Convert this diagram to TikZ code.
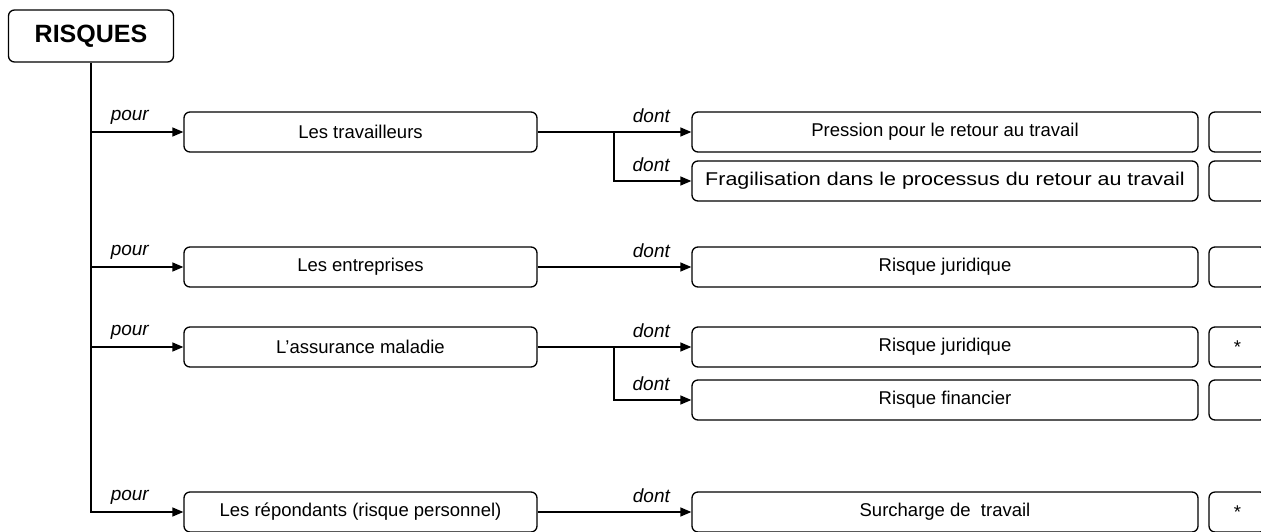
\documentclass[tikz,border=0pt]{standalone}
\usepackage{fontspec}
\setmainfont{Liberation Sans}
\usetikzlibrary{arrows.meta}
\begin{document}
\begin{tikzpicture}[x=1pt,y=-1pt,
  box/.style={draw,line width=1.3pt,rounded corners=6pt,inner sep=0pt,
    minimum height=40pt,font=\fontsize{18.5}{20}\selectfont},
  lvlone/.style={box,minimum width=353pt},
  lvltwo/.style={box,minimum width=506pt},
  side/.style={box,minimum width=57pt},
  wire/.style={line width=1.3pt},
  link/.style={wire,-{Triangle[length=11pt,width=9pt]}},
  tag/.style={font=\itshape\fontsize{19}{20}\selectfont,anchor=base,inner sep=0pt}]
\useasboundingbox (0,0) rectangle (1261,531);
\clip (0,0) rectangle (1261,531);

% root
\node[box,minimum width=165pt,minimum height=52pt,
  font=\bfseries\fontsize{25}{26}\selectfont] (root) at (91,36) {RISQUES};

% first level
\node[lvlone] (t1) at (360.5,132) {Les travailleurs};
\node[lvlone] (t2) at (360.5,267) {Les entreprises};
\node[lvlone] (t3) at (360.5,347) {L’assurance maladie};
\node[lvlone] (t4) at (360.5,512) {Les répondants (risque personnel)};

% second level
\node[lvltwo] (d1) at (945,132) {Pression pour le retour au travail};
\node[lvltwo] (d2) at (945,181)
  {\scalebox{1.16}[1]{Fragilisation dans le processus du retour au travail}};
\node[lvltwo] (d3) at (945,267) {Risque juridique};
\node[lvltwo] (d4) at (945,347) {Risque juridique};
\node[lvltwo] (d5) at (945,400) {Risque financier};
\node[lvltwo] (d6) at (945,512) {Surcharge de \ travail};

% side boxes
\node[side] (s1) at (1237.5,132) {};
\node[side] (s2) at (1237.5,181) {};
\node[side] (s3) at (1237.5,267) {};
\node[side] (s4) at (1237.5,347) {*};
\node[side] (s5) at (1237.5,400) {};
\node[side] (s6) at (1237.5,512) {*};

% trunk and "pour" links
\draw[link] (root.south) |- (t4.west)
  node[tag,pos=0.71,yshift=12pt] {pour};
\foreach \n in {t1,t2,t3}
  \draw[link] (root.south |- \n.west) -- (\n.west)
    node[tag,pos=0.42,yshift=12pt] {pour};

% "dont" links
\coordinate (j1) at (614,132);
\coordinate (j3) at (614,347);
\draw[link] (t1.east) -- (d1.west) node[tag,pos=0.74,yshift=10pt] {dont};
\draw[link] (j1) |- (d2.west) node[tag,pos=0.74,yshift=10pt] {dont};
\draw[link] (t2.east) -- (d3.west) node[tag,pos=0.74,yshift=10pt] {dont};
\draw[link] (t3.east) -- (d4.west) node[tag,pos=0.74,yshift=10pt] {dont};
\draw[link] (j3) |- (d5.west) node[tag,pos=0.74,yshift=10pt] {dont};
\draw[link] (t4.east) -- (d6.west) node[tag,pos=0.74,yshift=10pt] {dont};
\end{tikzpicture}
\end{document}
